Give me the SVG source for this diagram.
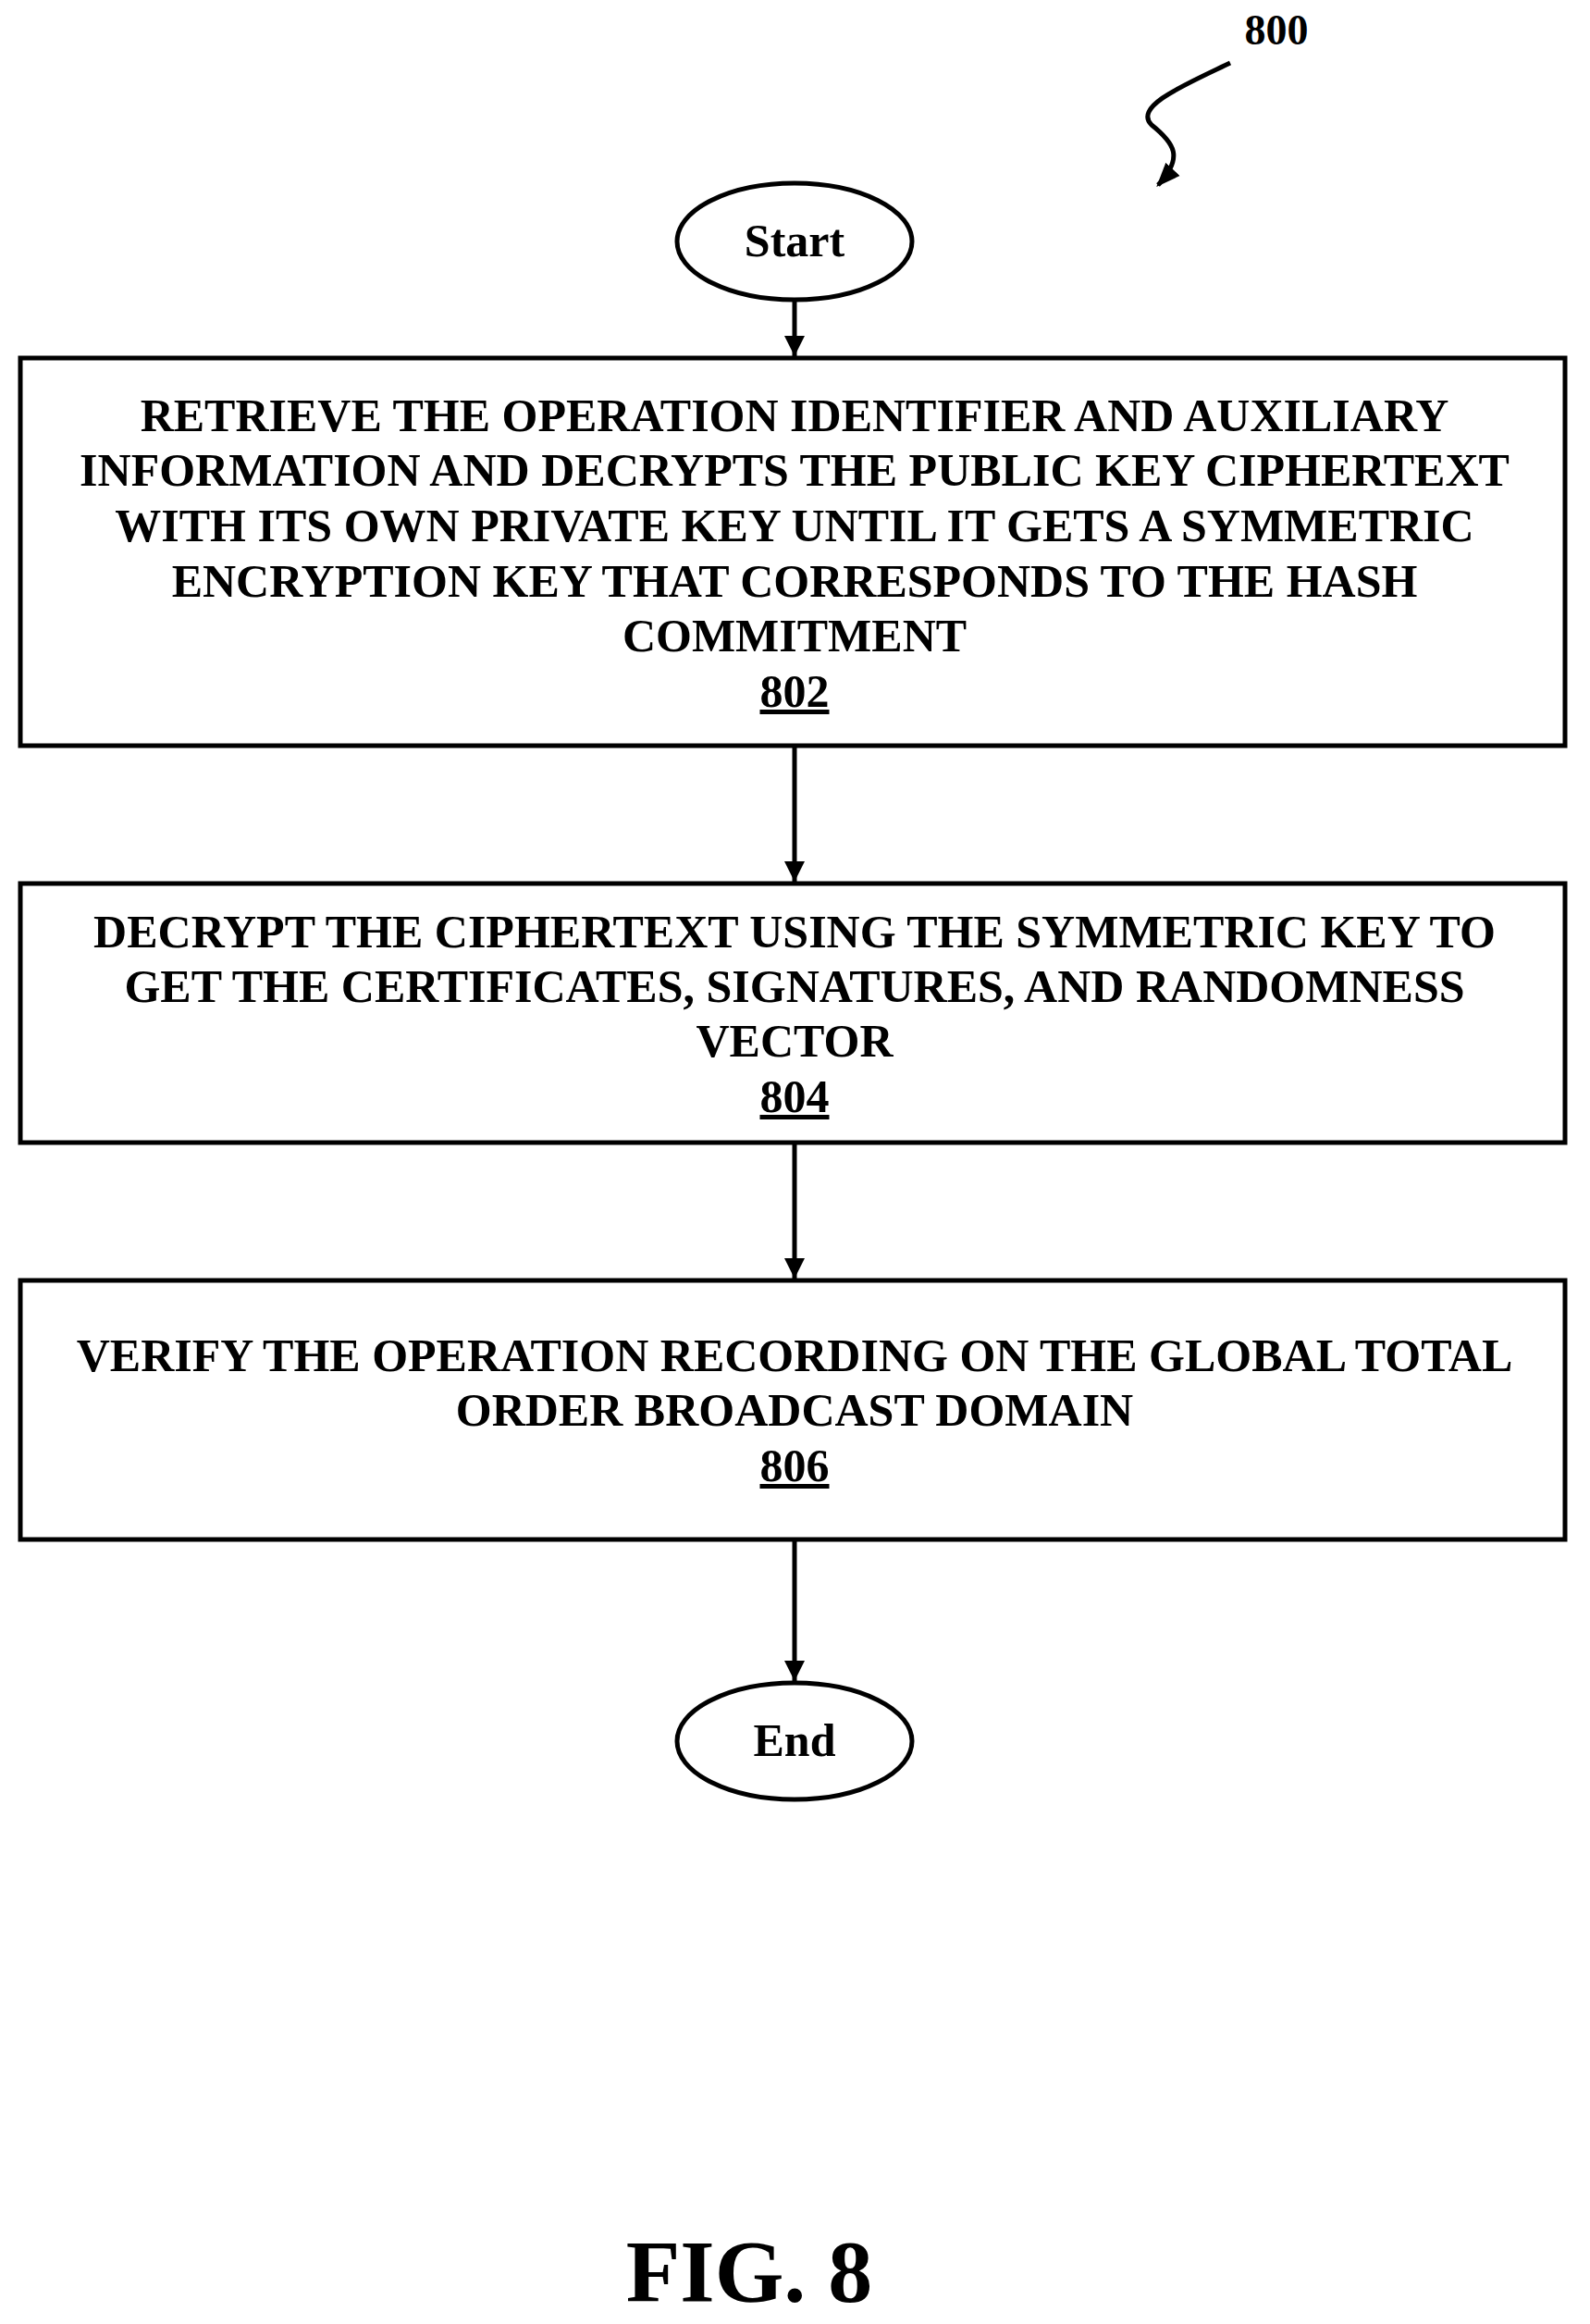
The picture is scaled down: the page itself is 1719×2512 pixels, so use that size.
<svg xmlns="http://www.w3.org/2000/svg" width="1719" height="2512" viewBox="0 0 1719 2512">
<style>
.b{fill:#fff;stroke:#000;stroke-width:5}
.t{font-family:"Liberation Serif","Times New Roman",serif;font-weight:bold;font-size:50px;text-anchor:middle;fill:#000}
.c{stroke:#000;stroke-width:5;fill:none}
</style>
<defs><marker id="a" markerWidth="22" markerHeight="24" refX="10" refY="5" orient="auto" markerUnits="userSpaceOnUse" viewBox="0 0 10 10"><path d="M0,0L10,5L0,10z" fill="#000"/></marker>
<marker id="h" viewBox="0 0 10 10" refX="9" refY="5" markerWidth="26" markerHeight="26" orient="auto" markerUnits="userSpaceOnUse"><path d="M0,1L10,5L0,9z" fill="#000"/></marker></defs>
<g id="label800"><text class="t" x="1380" y="48" style="font-size:46px">800</text>
<path class="c" d="M1330,68 C1280,92 1225,115 1245,135 C1270,155 1280,170 1252,200" marker-end="url(#h)"/></g>
<g id="start"><ellipse class="b" cx="859" cy="261" rx="127" ry="63"/><text class="t" x="859" y="277">Start</text></g>
<g id="n802"><rect class="b" x="22" y="387" width="1670" height="419"/>
<text class="t" x="859" y="466">RETRIEVE THE OPERATION IDENTIFIER AND AUXILIARY</text>
<text class="t" x="859" y="525">INFORMATION AND DECRYPTS THE PUBLIC KEY CIPHERTEXT</text>
<text class="t" x="859" y="585">WITH ITS OWN PRIVATE KEY UNTIL IT GETS A SYMMETRIC</text>
<text class="t" x="859" y="645">ENCRYPTION KEY THAT CORRESPONDS TO THE HASH</text>
<text class="t" x="859" y="704">COMMITMENT</text>
<text class="t" x="859" y="764" text-decoration="underline">802</text></g>
<g id="n804"><rect class="b" x="22" y="955" width="1670" height="280"/>
<text class="t" x="859" y="1024">DECRYPT THE CIPHERTEXT USING THE SYMMETRIC KEY TO</text>
<text class="t" x="859" y="1083">GET THE CERTIFICATES, SIGNATURES, AND RANDOMNESS</text>
<text class="t" x="859" y="1142">VECTOR</text>
<text class="t" x="859" y="1202" text-decoration="underline">804</text></g>
<g id="n806"><rect class="b" x="22" y="1384" width="1670" height="280"/>
<text class="t" x="859" y="1482">VERIFY THE OPERATION RECORDING ON THE GLOBAL TOTAL</text>
<text class="t" x="859" y="1541">ORDER BROADCAST DOMAIN</text>
<text class="t" x="859" y="1601" text-decoration="underline">806</text></g>
<g id="end"><ellipse class="b" cx="859" cy="1882" rx="127" ry="63"/><text class="t" x="859" y="1898">End</text></g>
<g id="connectors">
<line class="c" x1="859" y1="324" x2="859" y2="385" marker-end="url(#a)"/>
<line class="c" x1="859" y1="808" x2="859" y2="953" marker-end="url(#a)"/>
<line class="c" x1="859" y1="1237" x2="859" y2="1382" marker-end="url(#a)"/>
<line class="c" x1="859" y1="1666" x2="859" y2="1817" marker-end="url(#a)"/>
</g>
<text class="t" x="810" y="2488" style="font-size:96px">FIG. 8</text>
</svg>
